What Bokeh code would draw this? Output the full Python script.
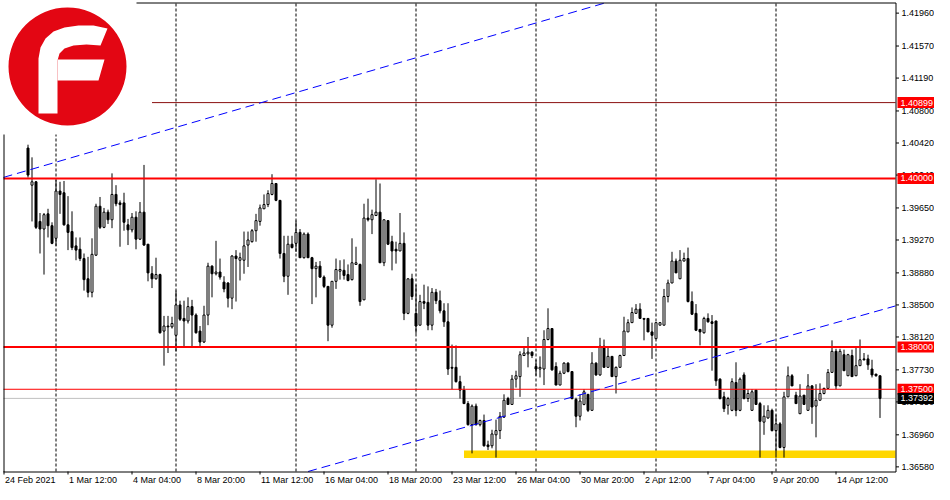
import numpy as np
from bokeh.plotting import figure
from bokeh.models import Range1d
from bokeh.core.properties import value
from bokeh.embed import file_html
from bokeh.resources import INLINE

# ---------------- data (4H bars, index 0 = 24 Feb 2021 00:00) ----------------
first_bar = 6
opens = [1.4036, 1.3992, 1.3996, 1.3949, 1.3940, 1.3958, 1.3944, 1.3929, 1.3985, 1.3983,
         1.3945, 1.3937, 1.3920, 1.3916, 1.3905, 1.3881, 1.3865, 1.3909, 1.3967, 1.3942,
         1.3960, 1.3951, 1.3981, 1.3971, 1.3971, 1.3945, 1.3939, 1.3954, 1.3928, 1.3960,
         1.3922, 1.3887, 1.3881, 1.3886, 1.3819, 1.3825, 1.3824, 1.3814, 1.3850, 1.3834,
         1.3831, 1.3848, 1.3838, 1.3819, 1.3806, 1.3838, 1.3896, 1.3887, 1.3889, 1.3877,
         1.3876, 1.3858, 1.3908, 1.3903, 1.3903, 1.3921, 1.3925, 1.3938, 1.3949, 1.3964,
         1.3969, 1.3981, 1.3994, 1.3974, 1.3911, 1.3884, 1.3922, 1.3923, 1.3936, 1.3906,
         1.3934, 1.3906, 1.3893, 1.3896, 1.3883, 1.3872, 1.3826, 1.3878, 1.3890, 1.3891,
         1.3886, 1.3880, 1.3898, 1.3898, 1.3856, 1.3953, 1.3951, 1.3956, 1.3960, 1.3900,
         1.3950, 1.3925, 1.3916, 1.3914, 1.3923, 1.3840, 1.3881, 1.3840, 1.3826, 1.3854,
         1.3853, 1.3826, 1.3865, 1.3855, 1.3843, 1.3830, 1.3776, 1.3776, 1.3759, 1.3749,
         1.3733, 1.3708, 1.3730, 1.3708, 1.3713, 1.3684, 1.3683, 1.3696, 1.3701, 1.3717,
         1.3739, 1.3732, 1.3762, 1.3765, 1.3790, 1.3792, 1.3794, 1.3777, 1.3774, 1.3774,
         1.3809, 1.3822, 1.3777, 1.3755, 1.3769, 1.3781, 1.3771, 1.3738, 1.3718, 1.3732,
         1.3744, 1.3725, 1.3781, 1.3767, 1.3801, 1.3776, 1.3789, 1.3765, 1.3776, 1.3790,
         1.3818, 1.3829, 1.3840, 1.3845, 1.3834, 1.3834, 1.3818, 1.3810, 1.3826, 1.3826,
         1.3860, 1.3876, 1.3902, 1.3881, 1.3902, 1.3905, 1.3854, 1.3840, 1.3821, 1.3817,
         1.3834, 1.3830, 1.3831, 1.3762, 1.3741, 1.3731, 1.3725, 1.3758, 1.3725, 1.3767,
         1.3739, 1.3725, 1.3749, 1.3733, 1.3711, 1.3716, 1.3725, 1.3701, 1.3709, 1.3681,
         1.3741, 1.3766, 1.3743, 1.3721, 1.3743, 1.3725, 1.3754, 1.3730, 1.3737, 1.3745,
         1.3751, 1.3770, 1.3795, 1.3754, 1.3791, 1.3766, 1.3790, 1.3766, 1.3778, 1.3786,
         1.3786, 1.3774, 1.3768, 1.3766]
highs = [1.4040, 1.4025, 1.3997, 1.3959, 1.3959, 1.3964, 1.3948, 1.3998, 1.3996, 1.3997,
         1.3979, 1.3961, 1.3930, 1.3930, 1.3911, 1.3907, 1.3929, 1.3970, 1.3978, 1.3965,
         1.3963, 1.4006, 1.3992, 1.3974, 1.3983, 1.3952, 1.3959, 1.3961, 1.3972, 1.4016,
         1.3922, 1.3896, 1.3906, 1.3887, 1.3837, 1.3837, 1.3836, 1.3867, 1.3855, 1.3855,
         1.3859, 1.3856, 1.3840, 1.3825, 1.3849, 1.3900, 1.3897, 1.3926, 1.3905, 1.3884,
         1.3877, 1.3909, 1.3915, 1.3912, 1.3937, 1.3937, 1.3940, 1.3958, 1.3969, 1.3981,
         1.3986, 1.4005, 1.3994, 1.3974, 1.3932, 1.3932, 1.3932, 1.3950, 1.3940, 1.3936,
         1.3936, 1.3907, 1.3901, 1.3902, 1.3885, 1.3872, 1.3878, 1.3905, 1.3903, 1.3904,
         1.3898, 1.3929, 1.3919, 1.3899, 1.3970, 1.3976, 1.3963, 1.3999, 1.3994, 1.3951,
         1.3950, 1.3932, 1.3925, 1.3959, 1.3936, 1.3881, 1.3887, 1.3874, 1.3862, 1.3874,
         1.3872, 1.3870, 1.3869, 1.3867, 1.3852, 1.3852, 1.3803, 1.3802, 1.3766, 1.3754,
         1.3736, 1.3732, 1.3733, 1.3714, 1.3720, 1.3689, 1.3702, 1.3714, 1.3723, 1.3744,
         1.3741, 1.3767, 1.3772, 1.3795, 1.3801, 1.3812, 1.3795, 1.3785, 1.3789, 1.3820,
         1.3846, 1.3822, 1.3782, 1.3772, 1.3782, 1.3782, 1.3771, 1.3740, 1.3744, 1.3750,
         1.3744, 1.3794, 1.3782, 1.3811, 1.3809, 1.3800, 1.3789, 1.3777, 1.3791, 1.3836,
         1.3833, 1.3847, 1.3851, 1.3852, 1.3834, 1.3834, 1.3829, 1.3829, 1.3829, 1.3869,
         1.3880, 1.3913, 1.3905, 1.3915, 1.3912, 1.3918, 1.3866, 1.3851, 1.3821, 1.3836,
         1.3840, 1.3838, 1.3831, 1.3763, 1.3747, 1.3741, 1.3763, 1.3782, 1.3764, 1.3770,
         1.3750, 1.3750, 1.3749, 1.3735, 1.3731, 1.3731, 1.3727, 1.3720, 1.3711, 1.3747,
         1.3777, 1.3768, 1.3747, 1.3756, 1.3743, 1.3768, 1.3755, 1.3756, 1.3757, 1.3752,
         1.3774, 1.3808, 1.3798, 1.3798, 1.3797, 1.3792, 1.3797, 1.3799, 1.3809, 1.3793,
         1.3791, 1.3785, 1.3768, 1.3766]
lows = [1.4001, 1.3949, 1.3940, 1.3911, 1.3886, 1.3930, 1.3922, 1.3920, 1.3958, 1.3944,
        1.3915, 1.3915, 1.3903, 1.3902, 1.3867, 1.3859, 1.3859, 1.3908, 1.3940, 1.3941,
        1.3946, 1.3941, 1.3967, 1.3919, 1.3938, 1.3921, 1.3936, 1.3916, 1.3927, 1.3920,
        1.3878, 1.3870, 1.3880, 1.3816, 1.3778, 1.3793, 1.3822, 1.3795, 1.3831, 1.3801,
        1.3828, 1.3801, 1.3816, 1.3801, 1.3805, 1.3826, 1.3859, 1.3885, 1.3880, 1.3865,
        1.3847, 1.3845, 1.3854, 1.3879, 1.3887, 1.3895, 1.3924, 1.3925, 1.3944, 1.3964,
        1.3966, 1.3980, 1.3973, 1.3905, 1.3877, 1.3862, 1.3917, 1.3913, 1.3906, 1.3905,
        1.3906, 1.3851, 1.3859, 1.3882, 1.3870, 1.3807, 1.3823, 1.3869, 1.3880, 1.3880,
        1.3878, 1.3879, 1.3898, 1.3849, 1.3856, 1.3949, 1.3934, 1.3956, 1.3900, 1.3896,
        1.3921, 1.3891, 1.3899, 1.3914, 1.3832, 1.3839, 1.3856, 1.3816, 1.3826, 1.3845,
        1.3820, 1.3820, 1.3851, 1.3840, 1.3824, 1.3767, 1.3750, 1.3758, 1.3739, 1.3733,
        1.3707, 1.3674, 1.3707, 1.3706, 1.3682, 1.3678, 1.3680, 1.3669, 1.3691, 1.3716,
        1.3732, 1.3732, 1.3752, 1.3741, 1.3790, 1.3776, 1.3787, 1.3766, 1.3764, 1.3755,
        1.3808, 1.3772, 1.3755, 1.3755, 1.3768, 1.3770, 1.3738, 1.3705, 1.3713, 1.3731,
        1.3723, 1.3725, 1.3766, 1.3766, 1.3776, 1.3776, 1.3765, 1.3745, 1.3776, 1.3790,
        1.3818, 1.3829, 1.3840, 1.3834, 1.3808, 1.3818, 1.3786, 1.3810, 1.3826, 1.3826,
        1.3853, 1.3876, 1.3888, 1.3881, 1.3902, 1.3853, 1.3838, 1.3819, 1.3802, 1.3816,
        1.3829, 1.3772, 1.3754, 1.3738, 1.3723, 1.3720, 1.3724, 1.3718, 1.3724, 1.3738,
        1.3735, 1.3725, 1.3732, 1.3669, 1.3696, 1.3715, 1.3700, 1.3669, 1.3680, 1.3669,
        1.3741, 1.3754, 1.3733, 1.3721, 1.3732, 1.3725, 1.3709, 1.3693, 1.3737, 1.3744,
        1.3751, 1.3770, 1.3750, 1.3754, 1.3772, 1.3766, 1.3765, 1.3766, 1.3778, 1.3784,
        1.3773, 1.3764, 1.3765, 1.3716]
closes = [1.4004, 1.3996, 1.3942, 1.3940, 1.3957, 1.3944, 1.3923, 1.3985, 1.3981, 1.3945,
          1.3936, 1.3918, 1.3915, 1.3905, 1.3880, 1.3865, 1.3910, 1.3967, 1.3942, 1.3960,
          1.3951, 1.3981, 1.3970, 1.3969, 1.3948, 1.3939, 1.3954, 1.3928, 1.3960, 1.3921,
          1.3888, 1.3881, 1.3886, 1.3817, 1.3825, 1.3824, 1.3828, 1.3850, 1.3833, 1.3831,
          1.3848, 1.3838, 1.3817, 1.3806, 1.3838, 1.3896, 1.3887, 1.3889, 1.3883, 1.3869,
          1.3858, 1.3908, 1.3905, 1.3906, 1.3920, 1.3927, 1.3938, 1.3950, 1.3965, 1.3969,
          1.3982, 1.3994, 1.3974, 1.3911, 1.3884, 1.3922, 1.3918, 1.3936, 1.3906, 1.3934,
          1.3906, 1.3893, 1.3896, 1.3883, 1.3872, 1.3826, 1.3878, 1.3892, 1.3892, 1.3885,
          1.3879, 1.3900, 1.3900, 1.3854, 1.3953, 1.3951, 1.3957, 1.3960, 1.3900, 1.3951,
          1.3922, 1.3914, 1.3914, 1.3923, 1.3840, 1.3881, 1.3860, 1.3825, 1.3854, 1.3852,
          1.3826, 1.3865, 1.3855, 1.3843, 1.3830, 1.3774, 1.3775, 1.3759, 1.3749, 1.3733,
          1.3708, 1.3730, 1.3708, 1.3713, 1.3683, 1.3682, 1.3697, 1.3701, 1.3718, 1.3737,
          1.3732, 1.3762, 1.3766, 1.3791, 1.3793, 1.3794, 1.3790, 1.3774, 1.3776, 1.3809,
          1.3822, 1.3773, 1.3755, 1.3769, 1.3781, 1.3771, 1.3739, 1.3718, 1.3736, 1.3747,
          1.3725, 1.3781, 1.3767, 1.3801, 1.3776, 1.3789, 1.3765, 1.3776, 1.3790, 1.3819,
          1.3829, 1.3841, 1.3845, 1.3834, 1.3833, 1.3818, 1.3814, 1.3829, 1.3829, 1.3860,
          1.3876, 1.3902, 1.3888, 1.3903, 1.3905, 1.3854, 1.3839, 1.3820, 1.3818, 1.3834,
          1.3830, 1.3828, 1.3760, 1.3739, 1.3727, 1.3739, 1.3759, 1.3725, 1.3762, 1.3739,
          1.3745, 1.3747, 1.3732, 1.3712, 1.3718, 1.3725, 1.3701, 1.3709, 1.3681, 1.3741,
          1.3766, 1.3754, 1.3733, 1.3742, 1.3732, 1.3754, 1.3729, 1.3737, 1.3745, 1.3751,
          1.3770, 1.3795, 1.3754, 1.3795, 1.3772, 1.3791, 1.3765, 1.3778, 1.3785, 1.3785,
          1.3779, 1.3767, 1.3766, 1.37392]

time_tick_bars = [0, 16, 32, 48, 64, 80, 96, 112, 128, 144, 160, 176, 192, 208]
time_tick_labels = ["24 Feb 2021", "1 Mar 12:00", "4 Mar 04:00", "8 Mar 20:00",
                    "11 Mar 12:00", "16 Mar 04:00", "18 Mar 20:00", "23 Mar 12:00",
                    "26 Mar 04:00", "30 Mar 20:00", "2 Apr 12:00", "7 Apr 04:00",
                    "9 Apr 20:00", "14 Apr 12:00"]
week_grid_bars = [13, 43, 73, 103, 133, 163, 193]
price_ticks = [1.36580, 1.36960, 1.37350, 1.37730, 1.38120, 1.38500, 1.38880,
               1.39270, 1.39650, 1.40040, 1.40420, 1.40800, 1.41190, 1.41570, 1.41960]

resistance_top = 1.40899
level_thick = [1.40000, 1.38000]
level_thin = 1.37500
bid_price = 1.37392
zone_low, zone_high = 1.36685, 1.36773
zone_start_bar = 115
upper_trend_bars, upper_trend_prices = [0, 150], [1.40014, 1.42077]
lower_trend_bars, lower_trend_prices = [120, 220], [1.37113, 1.38450]
top_line_start_bar = 37

# ---------------- layout (canvas pixels) ----------------
CANVAS_W, CANVAS_H = 934, 484
LEFT, TOP, RIGHT, BOTTOM = 3, 2, 895, 471     # price/time area
PX_PER_BAR = 4
x0 = -0.875                                   # bar value at canvas x = 0
x_left = x0 + LEFT / PX_PER_BAR
x_right = x0 + RIGHT / PX_PER_BAR
y_lo, y_hi = 1.36525, 1.42086                 # prices at BOTTOM / TOP
ppp = (y_hi - y_lo) / (BOTTOM - TOP)          # price per pixel
y_canvas_top = y_hi + TOP * ppp

p = figure(width=CANVAS_W, height=CANVAS_H,
           x_range=Range1d(x0, x0 + CANVAS_W / PX_PER_BAR),
           y_range=Range1d(y_canvas_top - CANVAS_H * ppp, y_canvas_top),
           output_backend="svg", toolbar_location=None,
           x_axis_location=None, y_axis_location=None,
           min_border_left=0, min_border_right=0, min_border_top=0, min_border_bottom=0,
           outline_line_color=None, background_fill_color="white", border_fill_color="white")
p.xgrid.visible = False
p.ygrid.visible = False
p.extra_x_ranges = {"px": Range1d(0, CANVAS_W)}
p.extra_y_ranges = {"px": Range1d(CANVAS_H, 0)}
px = dict(x_range_name="px", y_range_name="px")

FONT = "Liberation Sans"
FS = "9px"

# vertical week grid
n = len(week_grid_bars)
p.segment(x0=week_grid_bars, y0=[y_lo] * n, x1=week_grid_bars, y1=[y_hi] * n,
          line_color="black", line_width=1, line_dash="3 2")

# support zone (behind candles)
p.quad(left=[zone_start_bar], right=[x_right], bottom=[zone_low], top=[zone_high],
       fill_color="#FFD700", line_color=None)
# bid line
p.segment(x0=[x_left], y0=[bid_price], x1=[x_right], y1=[bid_price], line_color="#C0C0C0", line_width=1)

# candles
o = np.array(opens); h = np.array(highs); l = np.array(lows); c = np.array(closes)
xs = np.arange(first_bar, first_bar + len(o))
p.segment(x0=xs, y0=l, x1=xs, y1=h, line_color="black", line_width=1)
fills = ["white" if cc >= oo else "black" for oo, cc in zip(o, c)]
p.vbar(x=xs, width=0.5, top=np.maximum(o, c), bottom=np.minimum(o, c),
       fill_color=fills, line_color="black", line_width=1)

# horizontal levels
p.segment(x0=[top_line_start_bar], y0=[resistance_top], x1=[x_right], y1=[resistance_top],
          line_color="#8B1010", line_width=1)
for lv in level_thick:
    p.segment(x0=[x_left], y0=[lv], x1=[x_right], y1=[lv], line_color="red", line_width=2)
p.segment(x0=[x_left], y0=[level_thin], x1=[x_right], y1=[level_thin], line_color="red", line_width=1)

# trend channel, cut to the price area
def trend(bars, prices):
    s = (prices[1] - prices[0]) / (bars[1] - bars[0])
    at = lambda b: prices[0] + (b - bars[0]) * s
    xa, xb = x_left, x_right
    if at(xa) < y_lo:
        xa = bars[0] + (y_lo - prices[0]) / s
    if at(xb) > y_hi:
        xb = bars[0] + (y_hi - prices[0]) / s
    p.line([xa, xb], [at(xa), at(xb)], line_color="blue", line_width=1, line_dash="9 5")

trend(upper_trend_bars, upper_trend_prices)
trend(lower_trend_bars, lower_trend_prices)

# frame border
p.line([LEFT + 0.5, LEFT + 0.5, RIGHT + 0.5, RIGHT + 0.5, LEFT],
       [BOTTOM + 0.5, TOP + 0.5, TOP + 0.5, BOTTOM + 0.5, BOTTOM + 0.5],
       line_color="black", line_width=1, **px)

# logo (decoration)
p.quad(left=[0], right=[136], top=[0], bottom=[134], fill_color="white", line_color=None, **px)
p.circle(x=[67], y=[66], radius=59, fill_color="#E30613", line_color=None, **px)
p.patch(x=[38, 38, 40, 45, 53, 64, 78, 93, 107, 100, 86, 73, 64, 59, 57, 57, 38],
        y=[113, 58, 47, 38, 31, 27, 25, 25, 28, 45, 44, 45, 48, 53, 60, 113, 113],
        fill_color="white", line_color=None, **px)
p.patch(x=[57, 104, 98, 57], y=[59, 59, 80, 80], fill_color="white", line_color=None, **px)

# right price scale
m = len(price_ticks)
p.segment(x0=[RIGHT + 0.5] * m, y0=price_ticks, x1=[RIGHT + 3.5] * m, y1=price_ticks,
          line_color="black", line_width=1, x_range_name="px")
p.text(x=[RIGHT + 6] * m, y=price_ticks, text=[f"{v:.5f}" for v in price_ticks],
       text_align="left", text_baseline="middle", text_font=value(FONT),
       text_font_size=FS, text_color="black", x_range_name="px")

# time scale
k = len(time_tick_bars)
p.segment(x0=time_tick_bars, y0=[y_lo] * k, x1=time_tick_bars, y1=[y_lo - 3 * ppp] * k,
          line_color="black", line_width=1)
p.text(x=[max(b, x_left) for b in time_tick_bars], y=[y_lo - 3 * ppp] * k,
       text=time_tick_labels, x_offset=1,
       text_align="left", text_baseline="top", text_font=value(FONT),
       text_font_size=FS, text_color="black")

# price tags
tag_prices = [resistance_top] + level_thick + [level_thin, bid_price]
tag_colors = ["red", "red", "red", "red", "black"]
t = len(tag_prices)
p.quad(left=[RIGHT + 2] * t, right=[CANVAS_W] * t,
       bottom=[v - 5.5 * ppp for v in tag_prices], top=[v + 5.5 * ppp for v in tag_prices],
       fill_color=tag_colors, line_color=None, x_range_name="px")
p.text(x=[RIGHT + 5] * t, y=tag_prices, text=[f"{v:.5f}" for v in tag_prices],
       text_align="left", text_baseline="middle", text_font=value(FONT),
       text_font_size=FS, text_color="white", x_range_name="px")

open("out.html", "w").write(file_html(p, INLINE))
